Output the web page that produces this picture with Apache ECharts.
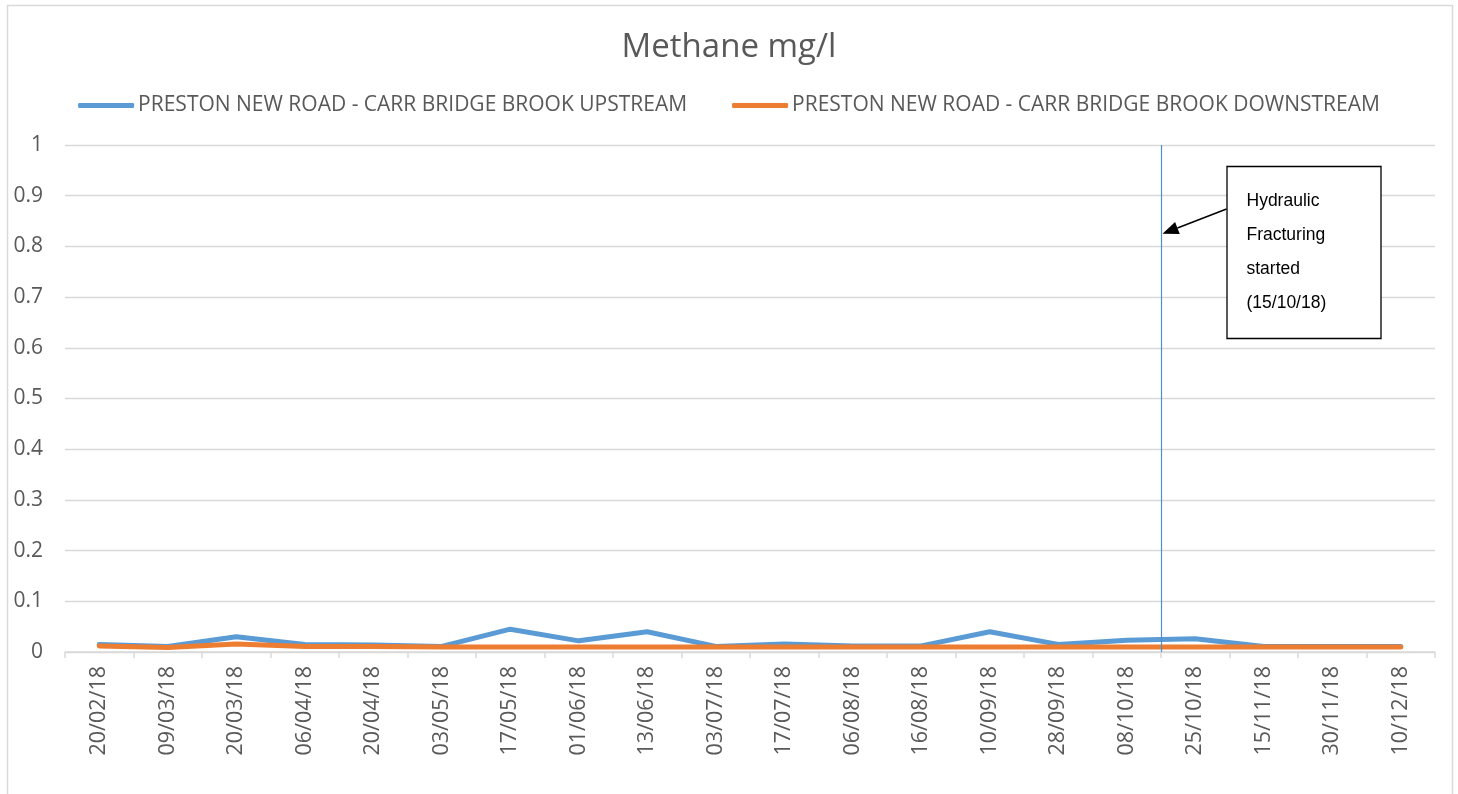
<!DOCTYPE html>
<html>
<head>
<meta charset="utf-8">
<script src="https://cdn.jsdelivr.net/npm/echarts@6/dist/echarts.min.js"></script>
<style>
html,body{margin:0;padding:0;background:#fff;}
#chart{width:1458px;height:794px;}
</style>
</head>
<body>
<div id="chart"></div>
<script>
var categories = ['20/02/18','09/03/18','20/03/18','06/04/18','20/04/18','03/05/18','17/05/18','01/06/18','13/06/18','03/07/18','17/07/18','06/08/18','16/08/18','10/09/18','28/09/18','08/10/18','25/10/18','15/11/18','30/11/18','10/12/18'];
var upstream = [0.015,0.011,0.03,0.015,0.014,0.011,0.045,0.022,0.04,0.011,0.016,0.012,0.012,0.04,0.015,0.023,0.026,0.011,0.011,0.011];
var downstream = [0.012,0.009,0.016,0.011,0.011,0.01,0.01,0.01,0.01,0.01,0.01,0.01,0.01,0.01,0.01,0.01,0.01,0.01,0.01,0.01];
var seriesNames = ['PRESTON NEW ROAD - CARR BRIDGE BROOK UPSTREAM','PRESTON NEW ROAD - CARR BRIDGE BROOK DOWNSTREAM'];
var annotationLines = ['Hydraulic','Fracturing','started','(15/10/18)'];
var fracStartBetween = ['08/10/18','25/10/18'];

var FONT = '"Open Sans", sans-serif';
var chart = echarts.init(document.getElementById('chart'));
var option = {
  animation: false,
  backgroundColor: '#fff',
  title: {
    text: 'Methane mg/l', left: 'center', top: 26,
    textStyle: {fontFamily: FONT, fontSize: 33, fontWeight: 'normal', color: '#595959'}
  },
  legend: {
    top: 90, left: 'center', itemGap: 45, itemWidth: 56, itemHeight: 5,
    icon: 'roundRect',
    textStyle: {fontFamily: FONT, fontSize: 21, color: '#595959', padding: [0,0,0,-1]},
    data: seriesNames
  },
  grid: {left: 65, right: 23, top: 145, bottom: 142},
  xAxis: {
    type: 'category', data: categories, boundaryGap: true,
    axisLine: {lineStyle: {color: '#d9d9d9', width: 1.5}},
    axisTick: {show: true, length: 6, lineStyle: {color: '#d9d9d9', width: 1.5}},
    axisLabel: {rotate: 90, margin: 14, interval: 0, fontFamily: FONT, fontSize: 21.5, color: '#595959'}
  },
  yAxis: {
    type: 'value', min: 0, max: 1, interval: 0.1,
    axisLine: {show: false}, axisTick: {show: false},
    splitLine: {lineStyle: {color: '#d9d9d9', width: 1.3}},
    axisLabel: {margin: 22, fontFamily: FONT, fontSize: 21, color: '#595959',
      formatter: function(v){ return String(Math.round(v*10)/10); }}
  },
  series: [
    {name: seriesNames[0], type: 'line', data: upstream, symbol: 'none',
     itemStyle: {color: '#5b9bd5'}, lineStyle: {color: '#5b9bd5', width: 5, cap: 'round', join: 'round'}},
    {name: seriesNames[1], type: 'line', data: downstream, symbol: 'none',
     itemStyle: {color: '#ed7d31'}, lineStyle: {color: '#ed7d31', width: 5, cap: 'round', join: 'round'}}
  ]
};
chart.setOption(option);

// derived positions
var i0 = categories.indexOf(fracStartBetween[0]);
var i1 = categories.indexOf(fracStartBetween[1]);
var xa = chart.convertToPixel({xAxisIndex: 0}, categories[i0]);
var xb = chart.convertToPixel({xAxisIndex: 0}, categories[i1]);
var vx = Math.round((xa + xb) / 2) + 0.5;
var yTop = chart.convertToPixel({yAxisIndex: 0}, 1);
var yBot = chart.convertToPixel({yAxisIndex: 0}, 0);
var headY = chart.convertToPixel({yAxisIndex: 0}, 0.825);

var boxX = vx + 65, boxY = 166, boxW = 154, boxH = 172;
var tailX = boxX, tailY = 209;
var hx = vx + 1, hy = headY;
var dx = tailX - hx, dy = tailY - hy, L = Math.sqrt(dx*dx+dy*dy);
var ux = dx/L, uy = dy/L, px = -uy, py = ux;
var headLen = 16, headW = 6.5;
var bx = hx + ux*headLen, by = hy + uy*headLen;

var graphics = [
  {type: 'rect', silent: true, z: -1, shape: {x: 7.5, y: 5.5, width: 1445, height: 800},
   style: {fill: null, stroke: '#d9d9d9', lineWidth: 1.5}},
  {type: 'line', silent: true, z: 10, shape: {x1: vx, y1: yTop, x2: vx, y2: yBot},
   style: {stroke: '#4f8fd0', lineWidth: 1.2}},
  {type: 'rect', silent: true, z: 10, shape: {x: boxX + 0.5, y: boxY + 0.5, width: boxW, height: boxH},
   style: {fill: '#fff', stroke: '#000', lineWidth: 1.3}},
  {type: 'line', silent: true, z: 10, shape: {x1: tailX, y1: tailY, x2: bx, y2: by},
   style: {stroke: '#000', lineWidth: 1.5}},
  {type: 'polygon', silent: true, z: 10, shape: {points: [[hx, hy], [bx + px*headW, by + py*headW], [bx - px*headW, by - py*headW]]},
   style: {fill: '#000'}}
];
annotationLines.forEach(function(t, k){
  graphics.push({type: 'text', silent: true, z: 11, x: boxX + 20, y: boxY + 35 + k*34,
    style: {text: t, font: '17.5px "Liberation Sans", Arial, sans-serif', fill: '#000', verticalAlign: 'middle'}});
});
chart.setOption({graphic: graphics});
</script>
</body>
</html>
